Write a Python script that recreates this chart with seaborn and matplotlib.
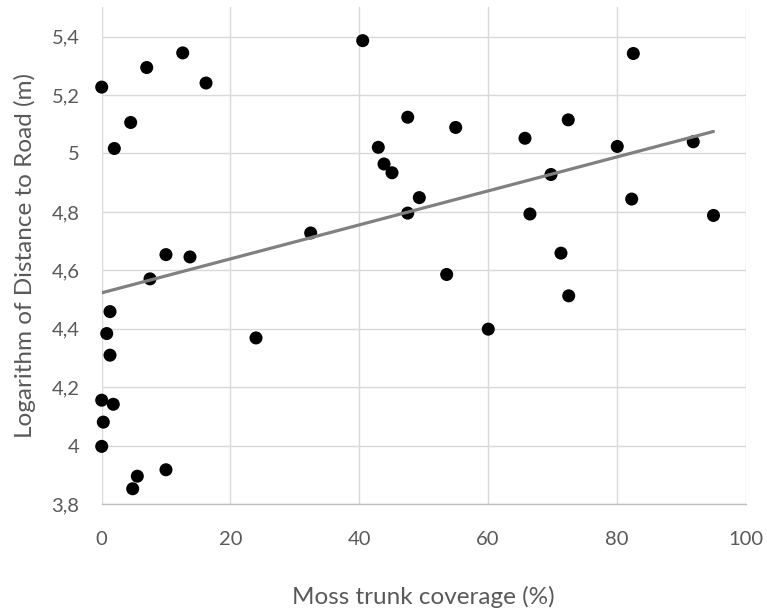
import numpy as np
import pandas as pd
import matplotlib
matplotlib.use("Agg")
import matplotlib.pyplot as plt
import seaborn as sns
from matplotlib.ticker import FuncFormatter

# ===========================
# DATA
# ===========================
moss_cover = [
    0.0, 6.99, 12.58, 16.20, 4.50, 1.96, 9.98, 13.71, 7.50, 1.29,
    0.78, 1.29, 23.96, 0.0, 1.80, 0.25, 0.0, 5.53, 4.81, 9.98,
    40.53, 47.52, 54.97, 42.95, 43.84, 45.08, 49.32, 47.52, 32.45, 53.57,
    60.03, 71.32, 72.52,
    82.55, 72.45, 65.73, 80.06, 91.86, 69.77, 82.30, 66.50, 95.00,
]
log_distance = [
    5.227, 5.294, 5.344, 5.241, 5.106, 5.017, 4.654, 4.646, 4.571, 4.459,
    4.384, 4.310, 4.369, 4.156, 4.142, 4.081, 3.998, 3.896, 3.853, 3.918,
    5.386, 5.124, 5.089, 5.021, 4.964, 4.934, 4.849, 4.796, 4.728, 4.586,
    4.399, 4.659, 4.513,
    5.342, 5.115, 5.052, 5.024, 5.040, 4.928, 4.844, 4.793, 4.788,
]
x_ticks = [0, 20, 40, 60, 80, 100]
y_ticks = [3.8, 4.0, 4.2, 4.4, 4.6, 4.8, 5.0, 5.2, 5.4]

X_LABEL = "Moss trunk coverage (%)"
Y_LABEL = "Logarithm of Distance to Road (m)"

df = pd.DataFrame({"moss": moss_cover, "logdist": log_distance})

# ===========================
# STYLE
# ===========================
sns.set_style("white")
plt.rcParams["font.family"] = ["Lato", "DejaVu Sans"]
TEXT_COL = "#595959"
GRID_COL = "#d9d9d9"

fig = plt.figure(figsize=(7.67, 6.09), dpi=100)
ax = fig.add_axes([0.1326, 0.172, 0.8396, 0.816])

sns.scatterplot(data=df, x="moss", y="logdist", ax=ax, color="black",
                s=88, edgecolor="none", linewidth=0, clip_on=False, zorder=3)

# Linear trend line
sns.regplot(data=df, x="moss", y="logdist", ax=ax, scatter=False, ci=None,
            color="#808080", line_kws={"lw": 2.3, "zorder": 4})

ax.set_xlim(0, 100)
ax.set_ylim(3.8, 5.5)
ax.set_xticks(x_ticks)
ax.set_yticks(y_ticks)
ax.yaxis.set_major_formatter(
    FuncFormatter(lambda v, _: f"{v:.1f}".rstrip("0").rstrip(".").replace(".", ","))
)

ax.grid(True, color=GRID_COL, linewidth=1.0)
ax.set_axisbelow(True)
for side in ["top", "right", "left"]:
    ax.spines[side].set_visible(False)
ax.spines["bottom"].set_color("#bfbfbf")
ax.spines["bottom"].set_linewidth(1.0)

ax.tick_params(axis="both", length=0, labelsize=14.5, labelcolor=TEXT_COL)
ax.tick_params(axis="x", pad=19)
ax.tick_params(axis="y", pad=16)

ax.set_xlabel(X_LABEL, fontsize=17.5, color=TEXT_COL, va="baseline")
ax.set_ylabel(Y_LABEL, fontsize=17.5, color=TEXT_COL, va="baseline")
ax.xaxis.set_label_coords(0.5, -0.2012)
ax.yaxis.set_label_coords(-0.1087, 0.5)

fig.savefig("out.png", dpi=100)
